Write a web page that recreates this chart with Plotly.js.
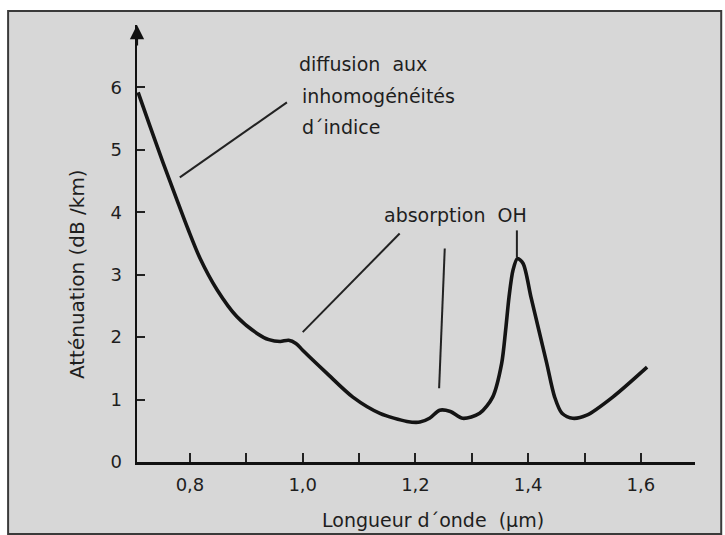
<!DOCTYPE html>
<html>
<head>
<meta charset="utf-8">
<script src="https://cdn.plot.ly/plotly-3.0.1.min.js"></script>
<style>
html,body{margin:0;padding:0;background:#ffffff;}
#chart{width:725px;height:535px;}
</style>
</head>
<body>
<div id="chart"></div>
<script>
// Wavelength (µm) and attenuation (dB/km)
const wavelength = [0.708, 0.729, 0.752, 0.776, 0.797, 0.818, 0.848, 0.883, 0.919, 0.940, 0.960, 0.975, 0.988, 1.000, 1.043, 1.089, 1.137, 1.185, 1.208, 1.225, 1.243, 1.262, 1.284, 1.314, 1.337, 1.353, 1.360, 1.366, 1.373, 1.381, 1.391, 1.405, 1.419, 1.433, 1.447, 1.460, 1.479, 1.504, 1.550, 1.611];
const attenuation = [5.92, 5.38, 4.80, 4.22, 3.72, 3.26, 2.76, 2.33, 2.06, 1.96, 1.93, 1.95, 1.90, 1.79, 1.42, 1.04, 0.78, 0.65, 0.64, 0.70, 0.83, 0.81, 0.70, 0.78, 1.04, 1.58, 2.11, 2.64, 3.07, 3.26, 3.18, 2.64, 2.11, 1.58, 1.04, 0.78, 0.70, 0.75, 1.04, 1.52];

const xTickVals = [0.8, 0.9, 1.0, 1.1, 1.2, 1.3, 1.4, 1.5, 1.6];
const xTickText = ['0,8', '', '1,0', '', '1,2', '', '1,4', '', '1,6'];
const yTickVals = [0, 1, 2, 3, 4, 5, 6];
const yTickText = ['0', '1', '2', '3', '4', '5', '6'];

const xRange = [0.706, 1.696];
const yRange = [0, 7.0];

// Callout labels and their leader lines (data coordinates)
const labelTexts = ['diffusion\u00a0 aux', 'inhomogénéités', 'd´indice', 'absorption\u00a0 OH'];
const labelX = [0.990, 0.995, 0.995, 1.141];
const labelY = [6.38, 5.87, 5.36, 3.95];
const leaderX0 = [0.782, 1.000, 1.242, 1.380];
const leaderY0 = [4.56, 2.08, 1.18, 3.28];
const leaderX1 = [0.972, 1.172, 1.252, 1.380];
const leaderY1 = [5.76, 3.66, 3.42, 3.71];

const FONT = 'DejaVu Sans, sans-serif';
const INK = '#1e1e1e';

const trace = {
  x: wavelength, y: attenuation, type: 'scatter', mode: 'lines',
  line: {color: '#141414', width: 3.6, shape: 'spline', smoothing: 0.8},
  hoverinfo: 'skip', showlegend: false
};

const shapes = [
  // scanned page frame
  {type: 'rect', xref: 'paper', yref: 'paper', x0: -0.231, x1: 1.047, y0: -0.165, y1: 1.032,
   line: {color: '#3a3a3a', width: 2}, fillcolor: '#d7d7d7', layer: 'below'}
];
for (let i = 0; i < leaderX0.length; i++) {
  shapes.push({type: 'line', xref: 'x', yref: 'y', x0: leaderX0[i], y0: leaderY0[i], x1: leaderX1[i], y1: leaderY1[i],
    line: {color: '#222', width: 2}});
}

const annotations = [];
for (let i = 0; i < labelTexts.length; i++) {
  annotations.push({x: labelX[i], y: labelY[i], xref: 'x', yref: 'y', text: labelTexts[i], showarrow: false,
    xanchor: 'left', yanchor: 'middle', font: {family: FONT, size: 19, color: INK}});
}
// y axis arrow head
annotations.push({x: xRange[0], y: yRange[1], xref: 'x', yref: 'y', text: '', showarrow: true,
  ax: 0, ay: 22, arrowhead: 2, arrowsize: 1.3, arrowwidth: 2.2, arrowcolor: '#111'});
// axis titles
annotations.push({xref: 'paper', yref: 'paper', x: -0.1075, y: 0.43, text: 'Atténuation (dB /km)', showarrow: false,
  textangle: -90, xanchor: 'center', yanchor: 'middle', font: {family: FONT, size: 20, color: INK}});
annotations.push({xref: 'paper', yref: 'paper', x: 0.53, y: -0.133, text: 'Longueur d´onde\u00a0 (µm)', showarrow: false,
  xanchor: 'center', yanchor: 'middle', font: {family: FONT, size: 19, color: INK}});

const layout = {
  width: 725, height: 535,
  margin: {l: 137, r: 30, t: 25, b: 73},
  paper_bgcolor: '#ffffff', plot_bgcolor: 'rgba(0,0,0,0)',
  xaxis: {range: xRange, tickvals: xTickVals, ticktext: xTickText, ticks: 'inside', ticklen: 9,
    tickwidth: 2, tickcolor: '#222', showline: true, linecolor: '#111', linewidth: 2.5,
    showgrid: false, zeroline: false, ticklabelstandoff: 5,
    tickfont: {family: FONT, size: 18, color: INK}, fixedrange: true},
  yaxis: {range: yRange, tickvals: yTickVals, ticktext: yTickText, ticks: 'inside', ticklen: 8,
    tickwidth: 2, tickcolor: '#222', showline: true, linecolor: '#111', linewidth: 2.5,
    showgrid: false, zeroline: false, ticklabelstandoff: 9,
    tickfont: {family: FONT, size: 18, color: INK}, fixedrange: true},
  shapes: shapes,
  annotations: annotations,
  showlegend: false
};

Plotly.newPlot('chart', [trace], layout, {displayModeBar: false, staticPlot: true});
</script>
</body>
</html>
